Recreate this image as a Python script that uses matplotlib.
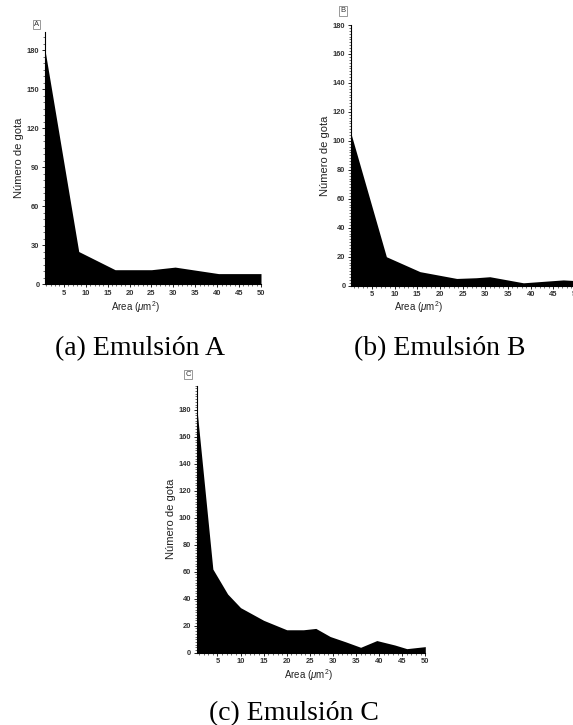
import numpy as np
import matplotlib.pyplot as plt
from matplotlib.ticker import MultipleLocator

W, H = 573, 725

# droplet size distributions (area in um^2 vs number of droplets)
area_a = [0.7, 8.4, 16.7, 25.0, 30.4, 40.3, 50.0]
count_a = [180, 25, 11, 11, 13, 8, 8]

area_b = [0.4, 8.2, 15.6, 23.7, 28.0, 31.0, 38.4, 47.2, 50.0]
count_b = [105, 20, 9.7, 5, 5.5, 6.2, 2, 4, 3.5]

area_c = [0.5, 4.0, 7.2, 10.0, 15.0, 20.0, 23.6, 26.3, 29.4, 32.8, 36.0, 39.5, 43.4, 46.0, 50.0]
count_c = [182.5, 62, 43.5, 33.4, 24, 17, 17, 18, 12, 8, 4, 9, 5.7, 3, 4.5]

x_ticks = [5, 10, 15, 20, 25, 30, 35, 40, 45, 50]
captions = ['(a) Emulsión A', '(b) Emulsión B', '(c) Emulsión C']


def px_axes(fig, left, top, right, bottom):
    return fig.add_axes([left / W, 1 - bottom / H, (right - left) / W, (bottom - top) / H])


def panel(ax, x, y, xlim, ylim, ystep, yminor, xlabel_pos):
    ax.fill_between(x, y, 0, color='black', lw=0)
    ax.set_xlim(*xlim)
    ax.set_ylim(*ylim)
    ax.set_xticks(x_ticks)
    ax.set_yticks(np.arange(0, 181, ystep))
    ax.xaxis.set_minor_locator(MultipleLocator(1))
    ax.yaxis.set_minor_locator(MultipleLocator(yminor))
    for s in ['top', 'right']:
        ax.spines[s].set_visible(False)
    for s in ['left', 'bottom']:
        ax.spines[s].set_linewidth(0.8)
    ax.tick_params(which='major', length=2.5, width=0.6, labelsize=5.4, pad=1.5)
    ax.tick_params(which='minor', length=1.3, width=0.4)
    for lab in ax.get_xticklabels() + ax.get_yticklabels():
        lab.set_fontweight('bold')
        lab.set_color('#333333')
    ax.set_ylabel('Número de gota', fontsize=8, labelpad=2, color='#222222')
    ax.set_xlabel(r'Area ($\mu$m$^2$)', fontsize=7, color='#222222')
    ax.xaxis.set_label_coords(*xlabel_pos)
    ax.patch.set_alpha(0)


plt.rcParams['font.family'] = ['Liberation Sans', 'DejaVu Sans']
plt.rcParams['mathtext.fontset'] = 'custom'
plt.rcParams['mathtext.rm'] = 'Liberation Sans'
plt.rcParams['mathtext.it'] = 'Liberation Sans:italic'

fig = plt.figure(figsize=(W / 100, H / 100), dpi=100)

ax_a = px_axes(fig, 45, 32, 261, 284)
panel(ax_a, area_a, count_a, (0.7, 50), (0, 194), 30, 5, (0.417, -0.06))

ax_b = px_axes(fig, 351, 25, 576, 285.7)
panel(ax_b, area_b, count_b, (0.4, 50), (0, 180), 20, 2, (0.30, -0.051))

ax_c = px_axes(fig, 196.7, 385.7, 425.3, 652.7)
panel(ax_c, area_c, count_c, (0.5, 50), (0, 198), 20, 2, (0.487, -0.054))

# small panel tags
for tag, (px, py) in zip(['A', 'B', 'C'], [(36.5, 24.5), (343, 11), (188, 374.5)]):
    fig.text(px / W, 1 - py / H, tag, fontsize=5.5, ha='center', va='center', color='#333333',
             bbox=dict(boxstyle='square,pad=0.15', fc='white', ec='#888888', lw=0.6))

# captions under each panel
for cap, (px, py) in zip(captions, [(140, 355), (440, 355), (294, 720)]):
    fig.text(px / W, 1 - py / H, cap, fontsize=20, ha='center', va='baseline',
             family=['Liberation Serif', 'DejaVu Serif'])

fig.savefig('out.png', dpi=100)
